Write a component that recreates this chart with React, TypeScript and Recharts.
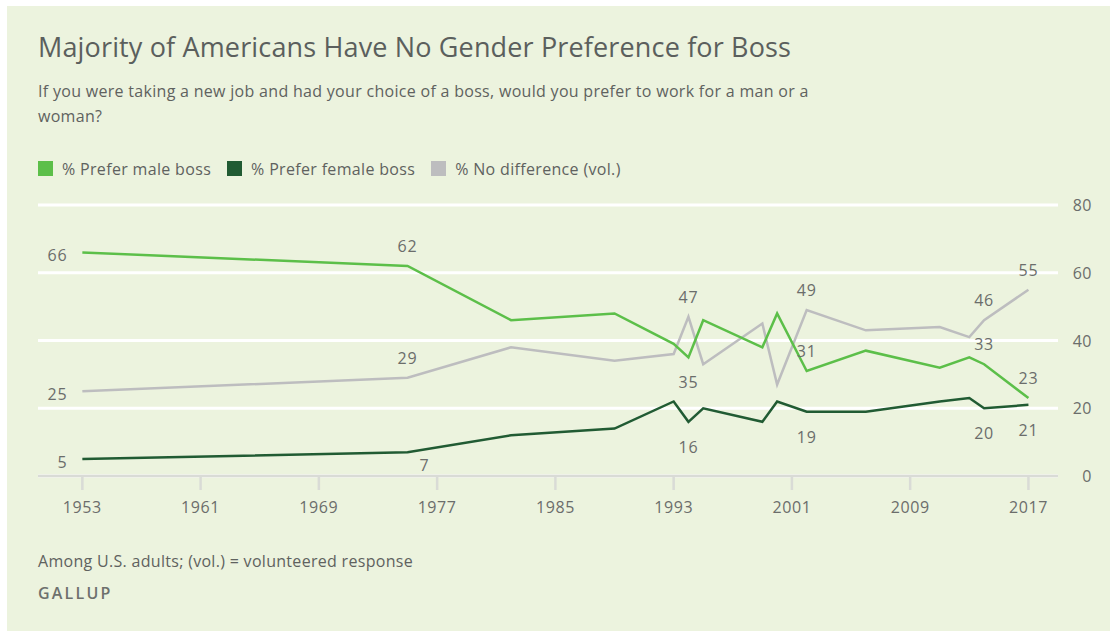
import React from "react";
import {
  CartesianGrid,
  LabelList,
  Line,
  LineChart,
  XAxis,
  YAxis,
} from "recharts";

const years = [1953, 1975, 1982, 1989, 1993, 1994, 1995, 1999, 2000, 2002, 2006, 2011, 2013, 2014, 2017];
const preferMale = [66, 62, 46, 48, 39, 35, 46, 38, 48, 31, 37, 32, 35, 33, 23];
const preferFemale = [5, 7, 12, 14, 22, 16, 20, 16, 22, 19, 19, 22, 23, 20, 21];
const noDifference = [25, 29, 38, 34, 36, 47, 33, 45, 27, 49, 43, 44, 41, 46, 55];
const xTicks = [1953, 1961, 1969, 1977, 1985, 1993, 2001, 2009, 2017];
const yTicks = [0, 20, 40, 60, 80];

const data = years.map((year, i) => ({
  year,
  male: preferMale[i],
  female: preferFemale[i],
  none: noDifference[i],
}));

const FONT = "'Open Sans', Roboto, sans-serif";
const TEXT = "#6b6d6b";
const MALE = "#5cbf49";
const FEMALE = "#215b33";
const NONE = "#bdbdbf";

// which points get a value label, and on which side
const maleSpots: Record<number, string> = { 1953: "left", 1975: "top", 1994: "bottom", 2002: "top", 2014: "top", 2017: "top" };
const femaleSpots: Record<number, string> = { 1953: "left", 1975: "belowRight", 1994: "bottom", 2002: "bottom", 2014: "bottom", 2017: "bottom" };
const noneSpots: Record<number, string> = { 1953: "left", 1975: "top", 1994: "top", 2002: "top", 2014: "top", 2017: "top" };

const pointLabel = (spots: Record<number, string>) => (props: any) => {
  const { x, y, value, index } = props;
  const spot = spots[years[index]];
  if (!spot) return null;
  let dx = 0;
  let dy = 0;
  let anchor = "middle";
  if (spot === "left") {
    dx = -15;
    dy = 3;
    anchor = "end";
  } else if (spot === "top") {
    dy = -20;
  } else if (spot === "bottom") {
    dy = 25;
  } else if (spot === "belowRight") {
    dx = 17;
    dy = 13;
  }
  return (
    <text
      x={x + dx}
      y={y + dy}
      textAnchor={anchor}
      dominantBaseline="central"
      fill={TEXT}
      fontSize={16}
      letterSpacing={0.8}
      fontFamily={FONT}
    >
      {value}
    </text>
  );
};

const RightTick = (props: any) => {
  const { y, payload } = props;
  return (
    <text
      x={1092}
      y={y}
      textAnchor="end"
      dominantBaseline="central"
      fill={TEXT}
      fontSize={16}
      letterSpacing={0.5}
      fontFamily={FONT}
    >
      {payload.value}
    </text>
  );
};

const legendItems = [
  { name: "% Prefer male boss", color: MALE },
  { name: "% Prefer female boss", color: FEMALE },
  { name: "% No difference (vol.)", color: NONE },
];

export default function App() {
  return (
    <div
      style={{
        position: "absolute",
        left: 0,
        top: 0,
        width: 1116,
        height: 635,
        background: "#ffffff",
        fontFamily: FONT,
        overflow: "hidden",
      }}
    >
      {/* PANEL */}
      <div
        style={{
          position: "absolute",
          left: 7,
          top: 6,
          width: 1103,
          height: 625,
          background: "#ecf3de",
        }}
      />

      <div
        style={{
          position: "absolute",
          left: 38,
          top: 31,
          fontSize: 27,
          lineHeight: "32px",
          letterSpacing: 0.15,
          color: "#5b5f5d",
          whiteSpace: "nowrap",
        }}
      >
        Majority of Americans Have No Gender Preference for Boss
      </div>

      <div
        style={{
          position: "absolute",
          left: 38,
          top: 78.5,
          fontSize: 16,
          lineHeight: "25px",
          letterSpacing: 0.3,
          color: "#5f625f",
          whiteSpace: "nowrap",
        }}
      >
        If you were taking a new job and had your choice of a boss, would you prefer to work for a man or a
        <br />
        woman?
      </div>

      {/* LEGEND */}
      <div
        style={{
          position: "absolute",
          left: 38,
          top: 161,
          height: 15,
          display: "flex",
          alignItems: "center",
          fontSize: 16,
          letterSpacing: 0.33,
          color: "#5f625f",
          whiteSpace: "nowrap",
        }}
      >
        {legendItems.map((item) => (
          <div
            key={item.name}
            style={{ display: "flex", alignItems: "center", marginRight: 16 }}
          >
            <div
              style={{
                width: 15,
                height: 15,
                background: item.color,
                marginRight: 9,
              }}
            />
            <span>{item.name}</span>
          </div>
        ))}
      </div>

      {/* CHART */}
      <div style={{ position: "absolute", left: 0, top: 0 }}>
        <LineChart
          width={1116}
          height={635}
          data={data}
          margin={{ top: 205, right: 0, bottom: 0, left: 38 }}
        >
          <CartesianGrid
            vertical={false}
            stroke="#ffffff"
            strokeWidth={3}
          />
          <XAxis
            dataKey="year"
            type="number"
            domain={[1950, 2019]}
            ticks={xTicks}
            height={159}
            axisLine={{ stroke: "#d9dbd6", strokeWidth: 2.5 }}
            tickLine={{ stroke: "#d9dbd6", strokeWidth: 2.5 }}
            tickSize={14}
            tickMargin={12}
            tick={{ fill: TEXT, fontSize: 16, fontFamily: FONT, letterSpacing: 0.6 }}
          />
          <YAxis
            orientation="right"
            domain={[0, 80]}
            ticks={yTicks}
            width={58}
            axisLine={false}
            tickLine={false}
            tick={<RightTick />}
          />
          <Line
            dataKey="none"
            stroke={NONE}
            strokeWidth={2.5}
            dot={false}
            isAnimationActive={false}
          >
            <LabelList dataKey="none" content={pointLabel(noneSpots)} />
          </Line>
          <Line
            dataKey="male"
            stroke={MALE}
            strokeWidth={2.5}
            dot={false}
            isAnimationActive={false}
          >
            <LabelList dataKey="male" content={pointLabel(maleSpots)} />
          </Line>
          <Line
            dataKey="female"
            stroke={FEMALE}
            strokeWidth={2.5}
            dot={false}
            isAnimationActive={false}
          >
            <LabelList dataKey="female" content={pointLabel(femaleSpots)} />
          </Line>
        </LineChart>
      </div>

      {/* FOOTER */}
      <div
        style={{
          position: "absolute",
          left: 38,
          top: 551,
          fontSize: 16,
          lineHeight: "20px",
          letterSpacing: 0.3,
          color: "#5f625f",
          whiteSpace: "nowrap",
        }}
      >
        Among U.S. adults; (vol.) = volunteered response
      </div>
      <div
        style={{
          position: "absolute",
          left: 38,
          top: 583,
          fontSize: 16,
          lineHeight: "20px",
          fontWeight: 600,
          letterSpacing: 2.2,
          color: "#6d706d",
        }}
      >
        GALLUP
      </div>
    </div>
  );
}
